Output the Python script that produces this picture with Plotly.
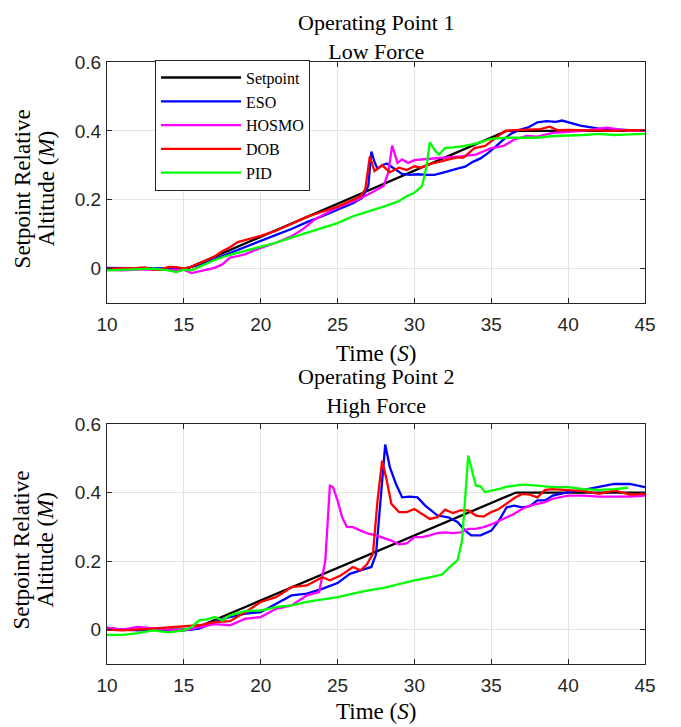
import plotly.graph_objs as go

# ---------------- Operating Point 1 / Low Force ----------------
t1_setpoint = [10, 15.2, 36.0, 45]
y1_setpoint = [0, 0, 0.4, 0.4]

t1_eso = [10, 11, 12, 13, 14, 15, 16, 17, 18, 19, 20, 21, 22, 23, 24, 25, 26, 26.6, 27.0, 27.2,
          27.4, 27.6, 27.9, 28.2, 28.7, 29.2, 29.7, 30.2, 30.8, 31.3, 31.8, 32.3, 32.8, 33.3, 33.8,
          34.3, 34.8, 35.3, 35.8, 36.3, 36.8, 37.4, 38.0, 38.6, 39.2, 39.6, 40.2, 40.8, 41.5, 42.2,
          43, 44, 45]
y1_eso = [0.002, 0.002, 0.0, 0.002, 0.0, 0.0, 0.01, 0.028, 0.045, 0.062, 0.08, 0.098, 0.115, 0.135,
          0.152, 0.17, 0.19, 0.205, 0.24, 0.34, 0.31, 0.29, 0.30, 0.305, 0.29, 0.275, 0.272, 0.274,
          0.272, 0.272, 0.278, 0.285, 0.29, 0.296, 0.31, 0.32, 0.336, 0.355, 0.375, 0.392, 0.402,
          0.41, 0.425, 0.428, 0.426, 0.43, 0.422, 0.415, 0.41, 0.405, 0.404, 0.402, 0.4]

t1_hosmo = [10, 11, 12, 13, 14, 15, 15.5, 16, 16.5, 17, 17.5, 18, 18.5, 19, 20, 21, 22, 22.7, 23.5,
            24.5, 25.5, 26.3, 27.2, 28, 28.3, 28.55, 28.9, 29.2, 29.6, 30, 31, 32, 33, 34, 35, 35.8,
            36.5, 37.3, 38, 39, 40, 41, 42.5, 44, 45]
y1_hosmo = [-0.004, -0.005, -0.003, -0.002, -0.004, -0.004, -0.013, -0.008, -0.003, 0.002, 0.012,
            0.032, 0.036, 0.042, 0.06, 0.075, 0.094, 0.113, 0.142, 0.167, 0.186, 0.2, 0.22, 0.24,
            0.28, 0.357, 0.307, 0.317, 0.307, 0.315, 0.319, 0.322, 0.326, 0.331, 0.35, 0.356, 0.375,
            0.385, 0.383, 0.394, 0.396, 0.4, 0.409, 0.4, 0.4]

t1_dob = [10, 11, 12, 12.5, 13, 13.5, 14, 14.5, 15, 15.5, 16, 17, 17.5, 18, 18.5, 19, 20, 21, 22, 23,
          24, 25, 26, 26.5, 26.8, 27.1, 27.4, 27.9, 28.4, 29, 29.5, 30, 30.4, 31.1, 31.8, 32.7, 33.2,
          33.9, 34.6, 35.3, 35.9, 36.5, 37.4, 38.2, 38.8, 39.3, 40, 41, 42, 43, 44, 45]
y1_dob = [0, 0, 0.002, 0.003, -0.004, -0.003, 0.005, 0.004, 0.0, 0.005, 0.015, 0.035, 0.05, 0.062,
          0.077, 0.083, 0.095, 0.11, 0.13, 0.15, 0.165, 0.18, 0.2, 0.21, 0.23, 0.326, 0.283, 0.30,
          0.28, 0.293, 0.286, 0.297, 0.293, 0.305, 0.312, 0.322, 0.322, 0.35, 0.356, 0.38, 0.4,
          0.402, 0.404, 0.405, 0.412, 0.402, 0.403, 0.402, 0.401, 0.4, 0.402, 0.401]

t1_pid = [10, 11, 12, 13, 14, 14.5, 15, 15.5, 16, 16.5, 17, 18, 19, 20, 21, 22, 23, 24, 25, 26, 27,
          28, 29, 29.5, 30, 30.5, 30.8, 31.0, 31.3, 31.6, 32, 33, 34, 35, 36, 37, 38, 39, 40, 41, 42,
          43, 44, 45]
y1_pid = [-0.005, -0.004, -0.002, 0.0, -0.005, -0.01, -0.003, -0.005, 0.005, 0.016, 0.025, 0.04,
          0.052, 0.065, 0.075, 0.09, 0.104, 0.118, 0.132, 0.152, 0.165, 0.18, 0.196, 0.21, 0.22,
          0.24, 0.3, 0.367, 0.345, 0.331, 0.35, 0.354, 0.363, 0.377, 0.38, 0.38, 0.38, 0.385, 0.386,
          0.388, 0.391, 0.388, 0.39, 0.391]

# ---------------- Operating Point 2 / High Force ----------------
t2_setpoint = [10, 15.5, 36.6, 45]
y2_setpoint = [0, 0, 0.4, 0.4]

t2_eso = [10, 11, 12, 13, 14, 15, 16, 17, 18, 19, 20, 21, 22, 23, 24, 25, 25.8, 26.5, 27.2, 27.5,
          27.8, 28.1, 28.4, 28.8, 29.2, 29.7, 30.2, 30.7, 31.5, 32.2, 32.8, 33.3, 33.7, 34.3, 35,
          35.5, 36, 36.5, 37, 37.5, 38, 38.5, 39, 40, 41, 42, 43, 44, 45]
y2_eso = [0.005, 0.0, -0.002, 0.0, -0.002, -0.002, 0.003, 0.022, 0.037, 0.047, 0.051, 0.076, 0.1,
          0.105, 0.119, 0.136, 0.163, 0.173, 0.183, 0.22, 0.377, 0.54, 0.474, 0.425, 0.386, 0.388,
          0.386, 0.362, 0.333, 0.328, 0.314, 0.289, 0.275, 0.275, 0.289, 0.318, 0.357, 0.362, 0.357,
          0.36, 0.377, 0.377, 0.391, 0.401, 0.408, 0.417, 0.425, 0.425, 0.416]

t2_hosmo = [10, 11, 12, 13, 14, 15, 16, 17, 18, 19, 20, 21, 22, 23, 23.8, 24.2, 24.5, 24.7, 25, 25.3,
            25.6, 26, 26.5, 27, 27.5, 28, 28.5, 29, 29.5, 30, 30.5, 31, 31.5, 32, 32.5, 33, 33.5, 34,
            34.5, 35, 35.5, 36, 36.5, 37, 37.5, 38, 38.5, 39, 40, 41, 42, 43, 44, 45]
y2_hosmo = [0.006, 0, 0.008, 0.003, 0, -0.002, 0.006, 0.016, 0.013, 0.032, 0.037, 0.061, 0.071, 0.1,
            0.11, 0.2, 0.42, 0.416, 0.377, 0.328, 0.3, 0.299, 0.289, 0.28, 0.275, 0.268, 0.26,
            0.249, 0.252, 0.27, 0.27, 0.275, 0.282, 0.284, 0.282, 0.284, 0.294, 0.294, 0.299, 0.307,
            0.317, 0.328, 0.338, 0.352, 0.362, 0.367, 0.372, 0.382, 0.391, 0.391, 0.388, 0.388,
            0.388, 0.391]

t2_dob = [10, 11, 12, 13, 14, 15, 16, 17, 18, 19, 20, 21, 22, 23, 24, 24.5, 25.2, 26, 26.5, 26.9,
          27.3, 27.6, 27.9, 28.2, 28.5, 29, 29.5, 30, 30.5, 31, 31.5, 32, 32.5, 33, 33.5, 34, 34.5,
          35, 35.5, 36, 36.5, 37, 37.5, 38, 38.5, 39, 40, 41, 42, 43, 44, 45]
y2_dob = [0, -0.002, 0, 0.003, 0.008, 0.01, 0.013, 0.022, 0.025, 0.051, 0.081, 0.095, 0.124, 0.129,
          0.153, 0.144, 0.158, 0.183, 0.173, 0.19, 0.221, 0.377, 0.493, 0.435, 0.367, 0.343, 0.343,
          0.352, 0.338, 0.323, 0.328, 0.35, 0.34, 0.348, 0.348, 0.333, 0.33, 0.343, 0.352, 0.367,
          0.384, 0.396, 0.394, 0.386, 0.408, 0.41, 0.408, 0.404, 0.396, 0.406, 0.394, 0.396]

t2_pid = [10, 11, 12, 13, 14, 15, 15.5, 16, 16.5, 17, 17.5, 18, 19, 20, 21, 22, 23, 24, 25, 26, 27,
          28, 29, 30, 31, 31.8, 32.3, 32.8, 33.1, 33.3, 33.5, 33.8, 34, 34.3, 34.6, 35, 35.5, 36, 37,
          38, 39, 40, 41, 42, 43, 43.9]
y2_pid = [-0.015, -0.015, -0.01, -0.002, -0.008, -0.002, 0.008, 0.027, 0.03, 0.037, 0.027, 0.042,
          0.054, 0.056, 0.066, 0.071, 0.081, 0.087, 0.095, 0.105, 0.115, 0.122, 0.134, 0.144,
          0.153, 0.161, 0.183, 0.202, 0.26, 0.377, 0.508, 0.454, 0.42, 0.418, 0.401, 0.406, 0.41,
          0.417, 0.423, 0.42, 0.416, 0.416, 0.41, 0.408, 0.41, 0.414]

names = ['Setpoint', 'ESO', 'HOSMO', 'DOB', 'PID']
colors = ['#000000', '#0000ff', '#ff00ff', '#ff0000', '#00ff00']

series1 = [(t1_setpoint, y1_setpoint), (t1_eso, y1_eso), (t1_hosmo, y1_hosmo),
           (t1_dob, y1_dob), (t1_pid, y1_pid)]
series2 = [(t2_setpoint, y2_setpoint), (t2_eso, y2_eso), (t2_hosmo, y2_hosmo),
           (t2_dob, y2_dob), (t2_pid, y2_pid)]

serif = 'Liberation Serif'
sans = 'Liberation Sans'

data = []
for (t, y), name, c in zip(series1, names, colors):
    data.append(go.Scatter(x=t, y=y, mode='lines', name=name,
                           line=dict(color=c, width=2.3), xaxis='x', yaxis='y'))
for (t, y), name, c in zip(series2, names, colors):
    data.append(go.Scatter(x=t, y=y, mode='lines', name=name, showlegend=False,
                           line=dict(color=c, width=2.3), xaxis='x2', yaxis='y2'))

common = dict(showgrid=True, gridcolor='#e3e3e3', gridwidth=1, zeroline=False,
              showline=True, linecolor='#262626', linewidth=1, mirror='ticks',
              ticks='inside', ticklen=5, tickcolor='#262626',
              tickfont=dict(family=sans, size=19, color='#262626'))


def xstyle(anchor):
    return dict(anchor=anchor, domain=[0, 1], range=[10, 45], dtick=5, tick0=10,
                ticklabelstandoff=4, **common)


def ystyle(anchor, domain):
    return dict(anchor=anchor, domain=domain, range=[-0.1, 0.6], dtick=0.2, tick0=0,
                ticklabelstandoff=1, **common)


top = [0.5997, 1.0]
bottom = [0.0, 0.3987]

label_font = dict(family=serif, size=23, color='#000000')
title_font = dict(family=serif, size=22, color='#000000')
annotations = []
# two-line subplot titles
annotations.append(dict(text='Operating Point 1<br>Low Force', x=0.5, y=1.0897, xref='paper',
                        yref='paper', showarrow=False, xanchor='center', yanchor='top',
                        font=title_font))
annotations.append(dict(text='Operating Point 2<br>High Force', x=0.5, y=0.4527, xref='paper',
                        yref='paper', showarrow=False, xanchor='center', yanchor='middle',
                        font=title_font))
# x axis titles
for y in [0.5166, -0.0797]:
    annotations.append(dict(text='Time (<i>S</i>)', x=0.5, y=y, xref='paper', yref='paper',
                            showarrow=False, xanchor='center', yanchor='middle', font=label_font))
# y axis titles (two lines, rotated)
for yc in [0.79, 0.19]:
    annotations.append(dict(text='Setpoint Relative', x=-0.158, y=yc, xref='paper', yref='paper',
                            showarrow=False, textangle=-90, xanchor='center', yanchor='middle',
                            font=label_font))
    annotations.append(dict(text='Altitude (<i>M</i>)', x=-0.1134, y=yc, xref='paper',
                            yref='paper', showarrow=False, textangle=-90, xanchor='center',
                            yanchor='middle', font=label_font))

# the page puts the figure 8px in from the top-left corner
layout = go.Layout(
    width=673, height=719,
    margin=dict(l=99, r=36, t=54, b=63),
    plot_bgcolor='white', paper_bgcolor='white',
    xaxis=xstyle('y'), yaxis=ystyle('x', top),
    xaxis2=xstyle('y2'), yaxis2=ystyle('x2', bottom),
    legend=dict(x=0.0892, y=1.004, xanchor='left', yanchor='top',
                bgcolor='white', bordercolor='#262626', borderwidth=1,
                itemwidth=80, tracegroupgap=0,
                font=dict(family=serif, size=16, color='#000000')),
    annotations=annotations,
    showlegend=True,
)

fig = go.Figure(data=data, layout=layout)
fig.write_html("out.html")
